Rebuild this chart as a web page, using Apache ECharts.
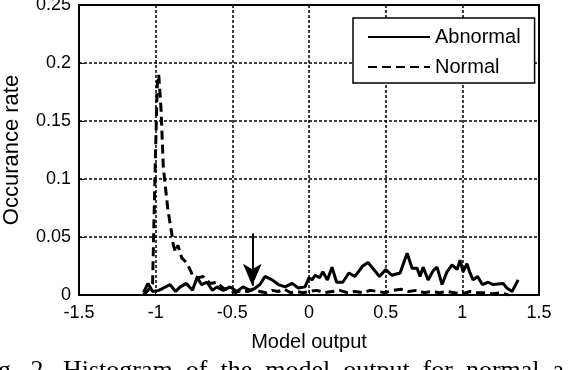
<!DOCTYPE html>
<html>
<head>
<meta charset="utf-8">
<style>
  html, body { margin: 0; padding: 0; background: #fff; }
  #chart { width: 586px; height: 370px; }
</style>
<script src="https://cdn.jsdelivr.net/npm/echarts/dist/echarts.min.js"></script>
</head>
<body>
<div id="chart"></div>
<script>
// histogram of model output
var normalX = [-1.08, -1.05, -1.02, -1.005, -0.99, -0.98, -0.965, -0.95, -0.92, -0.895, -0.885, -0.87, -0.855,
  -0.83, -0.8, -0.776, -0.756, -0.72, -0.69, -0.645, -0.6, -0.56, -0.52, -0.48, -0.44, -0.4, -0.36, -0.32,
  -0.28, -0.24, -0.2, -0.16, -0.12, -0.08, -0.04, 0, 0.05, 0.1, 0.15, 0.2, 0.25, 0.3, 0.35, 0.4, 0.45, 0.5,
  0.55, 0.6, 0.65, 0.7, 0.75, 0.8, 0.85, 0.9, 0.95, 1.0, 1.05, 1.1, 1.15, 1.2, 1.25, 1.3]
var normalY = [0, 0.004, 0.01, 0.1, 0.18, 0.19, 0.16, 0.11, 0.073, 0.053, 0.043, 0.037, 0.043,
  0.032, 0.028, 0.022, 0.016, 0.015, 0.016, 0.01, 0.011, 0.006, 0.004, 0.002, 0.004, 0.003, 0.005, 0.003,
  0.002, 0.004, 0.003, 0.005, 0.002, 0.003, 0.002, 0.003, 0.004, 0.002, 0.003, 0.004, 0.002, 0.003, 0.002, 0.004, 0.003, 0.002,
  0.004, 0.005, 0.003, 0.004, 0.002, 0.003, 0.002, 0.003, 0.002, 0.001, 0.003, 0.002, 0.002, 0.001, 0.002, 0]

var abnormalX = [-1.08, -1.05, -1.02, -0.98, -0.95, -0.906, -0.87, -0.84, -0.8, -0.76, -0.73, -0.7, -0.665,
  -0.63, -0.6, -0.56, -0.515, -0.47, -0.43, -0.385, -0.35, -0.32, -0.287, -0.24, -0.2, -0.156, -0.11, -0.07,
  -0.026, 0, 0.02, 0.04, 0.07, 0.09, 0.12, 0.15, 0.18, 0.22, 0.26, 0.3, 0.35, 0.385, 0.46, 0.5, 0.54, 0.594,
  0.64, 0.672, 0.705, 0.724, 0.744, 0.777, 0.81, 0.835, 0.868, 0.9, 0.933, 0.966, 0.985, 1.005, 1.03, 1.05,
  1.07, 1.1, 1.13, 1.168, 1.2, 1.266, 1.29, 1.325, 1.364]
var abnormalY = [0.002, 0.01, 0.003, 0.004, 0.006, 0.009, 0.003, 0.007, 0.01, 0.004, 0.015, 0.009, 0.011,
  0.004, 0.007, 0.004, 0.007, 0.003, 0.007, 0.004, 0.006, 0.009, 0.016, 0.013, 0.009, 0.007, 0.01, 0.006,
  0.007, 0.015, 0.013, 0.017, 0.015, 0.02, 0.013, 0.024, 0.011, 0.011, 0.019, 0.016, 0.025, 0.028, 0.016, 0.022, 0.017, 0.019,
  0.036, 0.023, 0.023, 0.016, 0.024, 0.013, 0.021, 0.024, 0.009, 0.02, 0.026, 0.022, 0.03, 0.02, 0.027, 0.019,
  0.013, 0.016, 0.009, 0.011, 0.009, 0.01, 0.006, 0.003, 0.013]

// the arrow marking the threshold
var arrowX = -0.37
var arrowTop = 0.053
var arrowBottom = 0.008

function zip (xs, ys) {
  return xs.map(function (x, i) { return [x, ys[i]] })
}

var chart = echarts.init(document.getElementById('chart'))
var font = 'Liberation Sans, Arial'
var txt = { color: '#000', fontFamily: font, fontSize: 18 }

chart.setOption({
  animation: false,
  backgroundColor: '#fff',
  grid: { left: 79, right: 47, top: 5, bottom: 75, outerBoundsMode: 'none' },
  legend: {
    orient: 'vertical',
    left: 353,
    top: 18,
    padding: [9, 14, 6, 14],
    itemGap: 10,
    itemWidth: 62,
    itemHeight: 20,
    backgroundColor: '#fff',
    borderColor: '#000',
    borderWidth: 1.5,
    borderRadius: 0,
    itemStyle: { opacity: 0 },
    textStyle: { color: '#000', fontFamily: font, fontSize: 20 },
    data: ['Abnormal', 'Normal']
  },
  xAxis: {
    type: 'value',
    min: -1.5,
    max: 1.5,
    interval: 0.5,
    name: 'Model output',
    nameLocation: 'middle',
    nameGap: 37,
    nameTextStyle: { color: '#000', fontFamily: font, fontSize: 20 },
    axisLine: { onZero: false, lineStyle: { color: '#000', width: 2 } },
    axisTick: { inside: true, length: 5, lineStyle: { color: '#000' } },
    axisLabel: Object.assign({ margin: 9 }, txt),
    splitLine: { show: true, lineStyle: { color: '#000', type: [3, 2], width: 1.5 } }
  },
  yAxis: {
    type: 'value',
    min: 0,
    max: 0.25,
    interval: 0.05,
    name: 'Occurance rate',
    nameLocation: 'middle',
    nameGap: 56,
    nameTextStyle: { color: '#000', fontFamily: font, fontSize: 22 },
    axisLine: { show: true, onZero: false, lineStyle: { color: '#000', width: 2 } },
    axisTick: { inside: true, length: 5, lineStyle: { color: '#000' } },
    axisLabel: Object.assign({ margin: 8 }, txt),
    splitLine: { show: true, lineStyle: { color: '#000', type: [3, 2], width: 1.5 } }
  },
  graphic: [
    // box frame on the top and right like matlab
    { type: 'rect', shape: { x: 79, y: 5, width: 460, height: 290 }, style: { fill: 'none', stroke: '#000', lineWidth: 2 }, z: 50, silent: true },
    { type: 'text', left: -2, top: 358, style: { text: 'g.  2.  Histogram  of  the  model  output  for  normal  a', fill: '#000', font: '26px "Liberation Serif", serif' } }
  ],
  series: [
    {
      name: 'Abnormal',
      type: 'line',
      symbol: 'none',
      data: zip(abnormalX, abnormalY),
      lineStyle: { color: '#000', width: 3, type: 'solid' },
      itemStyle: { color: '#000' },
      markLine: {
        silent: true,
        symbol: ['none', 'arrow'],
        symbolSize: [14, 22],
        label: { show: false },
        lineStyle: { color: '#000', width: 2, type: 'solid' },
        data: [[{ coord: [arrowX, arrowTop] }, { coord: [arrowX, arrowBottom] }]]
      }
    },
    {
      name: 'Normal',
      type: 'line',
      symbol: 'none',
      data: zip(normalX, normalY),
      lineStyle: { color: '#000', width: 3, type: [9, 5] },
      itemStyle: { color: '#000' }
    }
  ]
})
</script>
</body>
</html>
